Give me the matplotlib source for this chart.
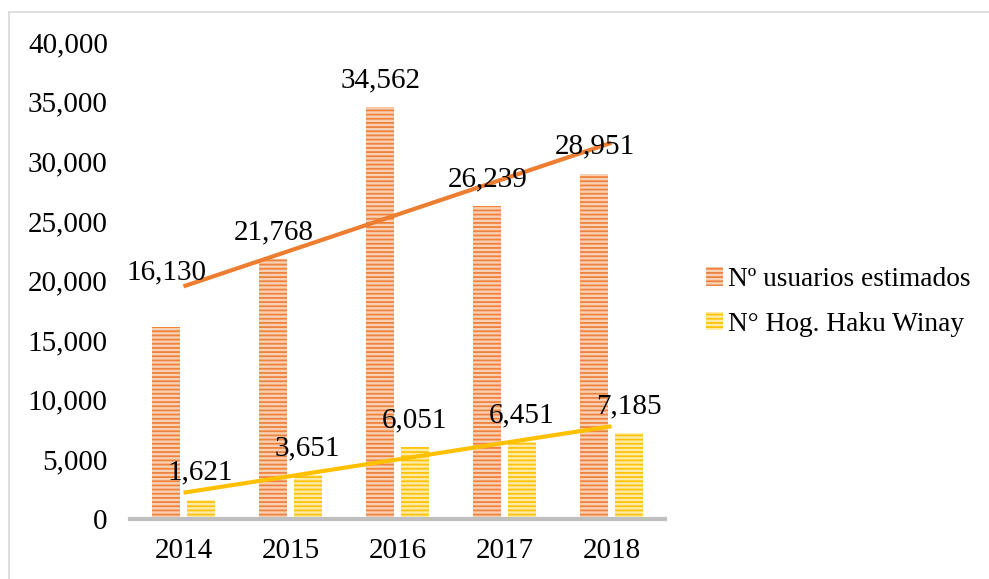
import matplotlib.pyplot as plt
import numpy as np
from matplotlib.lines import Line2D

# --- Data
years = ["2014", "2015", "2016", "2017", "2018"]
usuarios = [16130, 21768, 34562, 26239, 28951]
hogares = [1621, 3651, 6051, 6451, 7185]
labels = ["Nº usuarios estimados", "N° Hog. Haku Winay"]

plt.rcParams['font.family'] = ['Liberation Serif', 'DejaVu Serif']
plt.rcParams['hatch.linewidth'] = 1.3

fig = plt.figure(figsize=(9.89, 5.79), dpi=100)
ax = fig.add_axes([130 / 989, 60 / 579, 535 / 989, 477 / 579])

x = np.arange(len(years))
w = 0.26
off = 0.16

b1 = ax.bar(x - off, usuarios, w, color='#F9D0B2', edgecolor='#EE8240',
            hatch='----', linewidth=0, label=labels[0])
b2 = ax.bar(x + off, hogares, w, color='#FFEBA8', edgecolor='#FFC20A',
            hatch='----', linewidth=0, label=labels[1])

# Linear trendlines
for vals, col in [(usuarios, '#ED7D31'), (hogares, '#FFC000')]:
    k, c = np.polyfit(x, vals, 1)
    ax.plot([x[0], x[-1]], [k * x[0] + c, k * x[-1] + c], color=col, lw=3,
            solid_capstyle='butt', zorder=3)

# Data labels (first orange label pushed up like the original)
for i, v in enumerate(usuarios):
    dy = 30 if i == 0 else 10
    ax.annotate(f"{v:,}", (x[i] - off, v), xytext=(0, dy), textcoords='offset points',
                ha='center', va='bottom', fontsize=21, zorder=4)
for i, v in enumerate(hogares):
    ax.annotate(f"{v:,}", (x[i] + off, v), xytext=(0, 10), textcoords='offset points',
                ha='center', va='bottom', fontsize=21, zorder=4)

ax.set_xlim(-0.5, len(years) - 0.5)
ax.set_ylim(0, 40000)
ax.set_yticks(np.arange(0, 40001, 5000))
ax.set_yticklabels([f"{t:,}" for t in range(0, 40001, 5000)])
ax.set_xticks(x)
ax.set_xticklabels(years)
ax.tick_params(axis='both', length=0, labelsize=21)
ax.tick_params(axis='y', pad=16)
ax.tick_params(axis='x', pad=14)
for s in ['top', 'right', 'left']:
    ax.spines[s].set_visible(False)
ax.spines['bottom'].set_color('#BFBFBF')
ax.spines['bottom'].set_linewidth(3)

ax.legend(loc='center left', bbox_to_anchor=(1.03, 0.455), frameon=False,
          fontsize=19.7, handlelength=0.65, handleheight=0.65, handletextpad=0.15,
          labelspacing=0.72)

# Chart border
fig.add_artist(Line2D([9 / 989, 9 / 989], [0, 1 - 12 / 579], color='#D9D9D9', lw=1.2))
fig.add_artist(Line2D([9 / 989, 1], [1 - 12 / 579, 1 - 12 / 579], color='#D9D9D9', lw=1.2))

fig.savefig('out.png', dpi=100)
